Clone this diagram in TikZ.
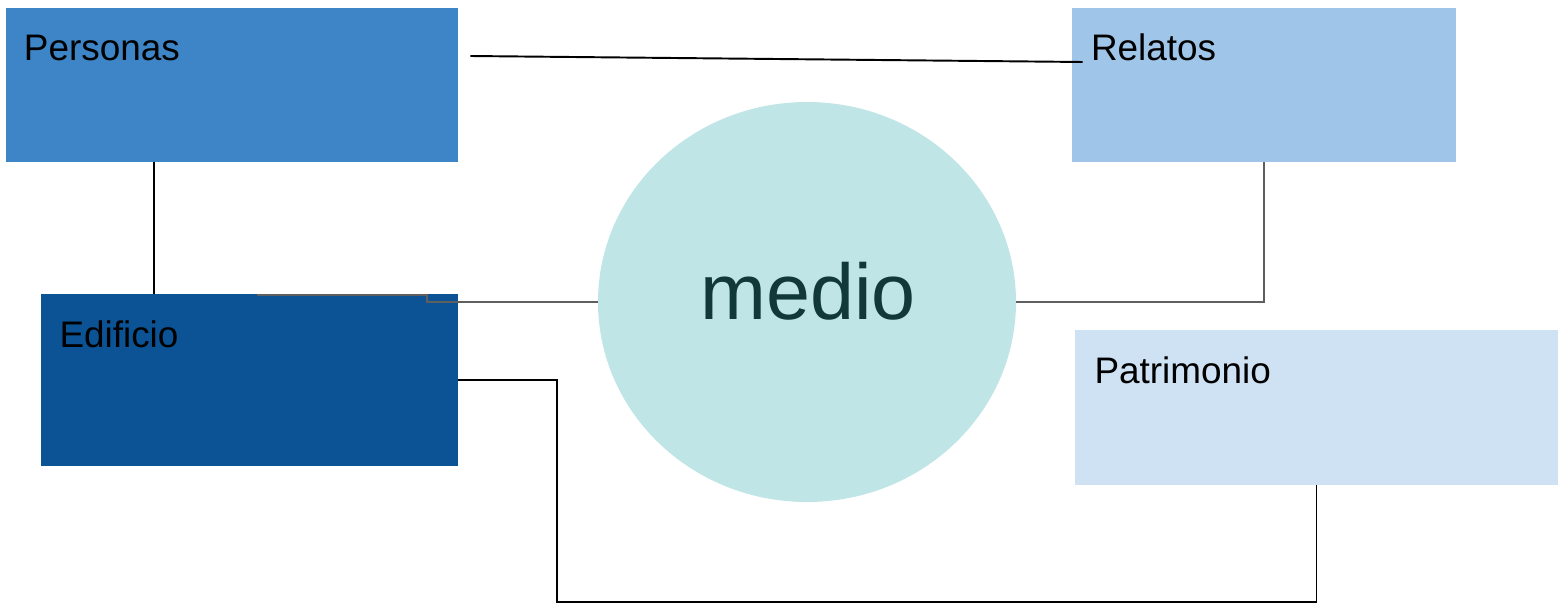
\documentclass[tikz,border=0pt]{standalone}
\usepackage{fontspec}
\setmainfont{Liberation Sans}
\usetikzlibrary{shapes.geometric}
\definecolor{azulA}{HTML}{3D85C6}
\definecolor{azulB}{HTML}{9FC5E8}
\definecolor{azulC}{HTML}{0B5394}
\definecolor{azulD}{HTML}{CFE2F3}
\definecolor{cian}{HTML}{C0E5E6}
\definecolor{tinta}{HTML}{12393A}
\definecolor{gris}{HTML}{5F5F5F}
\begin{document}
\begin{tikzpicture}[
    bloque/.style={rectangle, inner sep=0pt, draw=none},
    rotulo/.style={anchor=base west, inner sep=0pt, font=\fontsize{21}{25}\selectfont},
    linea/.style={line width=1.1pt, black},
    lineagris/.style={line width=1pt, gris}]
\useasboundingbox (0,0) rectangle (31.24,12.08);
% Bloques
\node[bloque, fill=azulA, minimum width=9.04cm, minimum height=3.08cm] (personas) at (4.64,10.38) {};
\node[bloque, fill=azulB, minimum width=7.68cm, minimum height=3.08cm] (relatos) at (25.28,10.38) {};
\node[bloque, fill=azulC, minimum width=8.34cm, minimum height=3.44cm] (edificio) at (4.99,4.48) {};
\node[bloque, fill=azulD, minimum width=9.66cm, minimum height=3.10cm] (patrimonio) at (26.33,3.93) {};
% Circulo
\node[ellipse, fill=cian, inner sep=0pt, minimum width=8.36cm, minimum height=8cm] (medio) at (16.14,6.04) {};
\node[anchor=base, inner sep=0pt, text=tinta, font=\fontsize{45}{50}\selectfont] (mediotxt) at ([xshift=0.02cm, yshift=-0.34cm]medio.center) {medio};
% Textos
\node[rotulo] (personastxt) at ([xshift=0.36cm, yshift=-1.06cm]personas.north west) {Personas};
\node[rotulo] (relatostxt) at ([xshift=0.38cm, yshift=-1.06cm]relatos.north west) {Relatos};
\node[rotulo] (edificiotxt) at ([xshift=0.37cm, yshift=-1.07cm]edificio.north west) {Edificio};
\node[rotulo] (patrimoniotxt) at ([xshift=0.39cm, yshift=-1.08cm]patrimonio.north west) {Patrimonio};
% Lineas
\draw[linea] ([xshift=0.24cm, yshift=0.58cm]personas.east) -- ([xshift=0.22cm, yshift=0.46cm]relatos.west);
\draw[linea] ([xshift=2.96cm]personas.south west) -- ([xshift=2.96cm]personas.south west |- edificio.north);
\draw[lineagris] (medio.west) -- ++(-3.42,0) |- ([xshift=4.32cm, yshift=-0.02cm]edificio.north west);
\draw[lineagris] (medio.east) -| (relatos.south);
\draw[linea] (edificio.east) -- ++(1.98,0) |- ([yshift=-2.34cm]patrimonio.south) -- (patrimonio.south);
\end{tikzpicture}
\end{document}
